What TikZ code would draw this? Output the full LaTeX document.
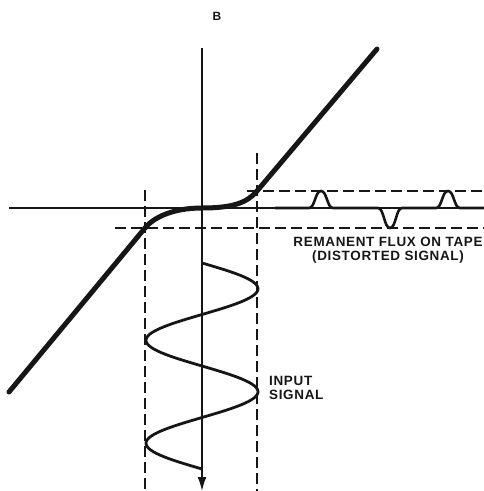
\documentclass[tikz,border=0pt]{standalone}
\usepackage{fontspec}
\newfontfamily\figfont[LetterSpace=5]{Liberation Sans}
\usetikzlibrary{arrows.meta}
\definecolor{Ink}{HTML}{161616}
\tikzset{
  axis/.style={draw=Ink,line width=1.6bp},
  guide/.style={draw=Ink,line width=1.6bp,dash pattern=on 11bp off 5bp},
  bh/.style={draw=Ink,line width=5bp,line cap=round},
  signal/.style={draw=Ink,line width=2.8bp},
  tape/.style={draw=Ink,line width=2.6bp},
  lbl/.style={font=\figfont\bfseries\fontsize{13.5}{14}\selectfont,text=Ink,inner sep=0pt},
}
\begin{document}
\begin{tikzpicture}[x=1bp,y=-1bp]
  \useasboundingbox (0,0) rectangle (484,491);
  % reference points
  \coordinate (O) at (202,208);
  \coordinate (Btop) at (202,48);
  \coordinate (Bend) at (202,491);
  \coordinate (Hl) at (9,208);
  \coordinate (Hr) at (484,208);
  \coordinate (low) at (145,228);
  \coordinate (knee) at (257,191);
  % guides
  \draw[guide] (145,190) -- (145,491);
  \draw[guide] (257,153) -- (257,491);
  \draw[guide] (247,191) -- (484,191);
  \draw[guide] (115,228) -- (484,228);
  % axes
  \draw[axis] (Hl) -- (Hr);
  \draw[axis,-{Latex[length=14bp,width=9bp]}] (Btop) -- (Bend);
  % B-H curve
  \draw[bh] (9,392) -- (low) .. controls (153,218) and (172,208) .. (O)
    .. controls (232,208) and (247,203) .. (knee) -- (377,49);
  % input signal
  \draw[signal] plot[domain=263:469,samples=120] ({202+56*sin((\x-263)*3.4951)},\x);
  % flux on tape
  \draw[tape] (275,208) \foreach \px/\dy in {321/-17,390/20,448/-17}{
    -- ({\px-12},208) .. controls ({\px-6},208) and ({\px-6},{208+\dy}) .. (\px,{208+\dy})
    .. controls ({\px+6},{208+\dy}) and ({\px+6},208) .. ({\px+12},208)} -- (484,208);
  \node[lbl,font=\figfont\bfseries\fontsize{12}{13}\selectfont,anchor=base] (Blabel) at (217,20.7) {B};
  \node[lbl,anchor=north,align=center] (tapelabel) at (388,236.5) {REMANENT FLUX ON TAPE\\(DISTORTED SIGNAL)};
  \node[lbl,anchor=north west,align=left] (inputlabel) at (269,376.5) {INPUT\\SIGNAL};
\end{tikzpicture}
\end{document}
